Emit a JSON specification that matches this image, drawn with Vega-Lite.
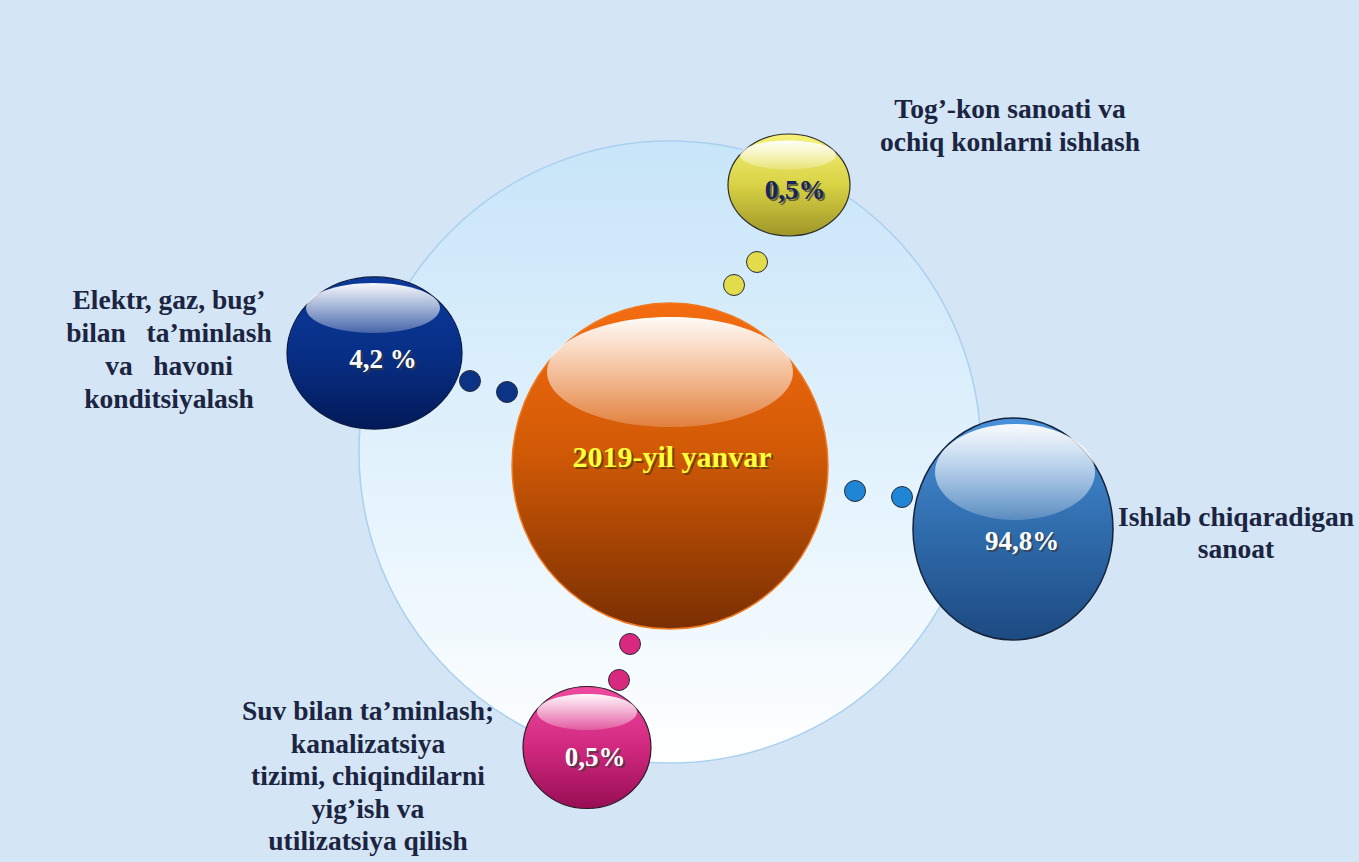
{
  "$schema": "https://vega.github.io/schema/vega-lite/v6.json",
  "width": 1359,
  "height": 862,
  "autosize": {"type": "fit", "contains": "padding"},
  "padding": 0,
  "background": "#d4e5f5",
  "config": {"view": {"stroke": null}},
  "datasets": {
    "ring": [{"x": 670, "y": 452}],
    "spheres": [
      {"id": "center", "x": 670, "y": 466},
      {"id": "manufacturing", "x": 1013, "y": 529},
      {"id": "energy", "x": 374.5, "y": 353},
      {"id": "mining", "x": 789, "y": 185},
      {"id": "water", "x": 587, "y": 747.5}
    ],
    "gloss": [
      {"id": "center", "x": 670, "y": 372},
      {"id": "manufacturing", "x": 1015, "y": 472},
      {"id": "energy", "x": 373, "y": 308},
      {"id": "mining", "x": 788, "y": 155},
      {"id": "water", "x": 587, "y": 712}
    ],
    "dots": [
      {"group": "energy", "x": 470, "y": 381},
      {"group": "energy", "x": 507, "y": 392},
      {"group": "mining", "x": 757, "y": 262},
      {"group": "mining", "x": 734, "y": 285},
      {"group": "manufacturing", "x": 855, "y": 491},
      {"group": "manufacturing", "x": 902, "y": 497},
      {"group": "water", "x": 630, "y": 644},
      {"group": "water", "x": 619, "y": 680}
    ],
    "values": [
      {"id": "center", "x": 672, "y": 458, "text": "2019-yil yanvar"},
      {"id": "manufacturing", "x": 1022, "y": 542, "text": "94,8%"},
      {"id": "energy", "x": 383, "y": 360, "text": "4,2 %"},
      {"id": "mining", "x": 795, "y": 191, "text": "0,5%"},
      {"id": "water", "x": 595, "y": 758, "text": "0,5%"}
    ],
    "labels": [
      {"id": "mining", "x": 1010, "y": 110, "text": "Tog’-kon sanoati va"},
      {"id": "mining", "x": 1010, "y": 143, "text": "ochiq konlarni ishlash"},
      {"id": "energy", "x": 169, "y": 301, "text": "Elektr, gaz, bug’"},
      {"id": "energy", "x": 169, "y": 334, "text": "bilan\u00a0\u00a0 ta’minlash"},
      {"id": "energy", "x": 169, "y": 367, "text": "va\u00a0\u00a0 havoni"},
      {"id": "energy", "x": 169, "y": 400, "text": "konditsiyalash"},
      {"id": "manufacturing", "x": 1236, "y": 518, "text": "Ishlab chiqaradigan"},
      {"id": "manufacturing", "x": 1236, "y": 550, "text": "sanoat"},
      {"id": "water", "x": 368, "y": 712, "text": "Suv bilan ta’minlash;"},
      {"id": "water", "x": 368, "y": 745, "text": "kanalizatsiya"},
      {"id": "water", "x": 368, "y": 777, "text": "tizimi, chiqindilarni"},
      {"id": "water", "x": 368, "y": 810, "text": "yig’ish va"},
      {"id": "water", "x": 368, "y": 842, "text": "utilizatsiya qilish"}
    ]
  },
  "encoding": {
    "x": {"field": "x", "type": "quantitative", "axis": null, "scale": {"domain": [0, 1359], "nice": false, "zero": false}},
    "y": {"field": "y", "type": "quantitative", "axis": null, "scale": {"domain": [0, 862], "nice": false, "zero": false, "reverse": true}}
  },
  "layer": [
    {
      "data": {"name": "ring"},
      "mark": {"type": "point", "shape": "circle", "size": 386884, "filled": true, "opacity": 1,
        "fill": {"gradient": "linear", "x1": 0, "y1": 0, "x2": 0, "y2": 1, "stops": [{"offset": 0, "color": "#c8e5f9"}, {"offset": 0.6, "color": "#e6f4fd"}, {"offset": 1, "color": "#ffffff"}]},
        "stroke": "#a9d1ef", "strokeWidth": 1.5}
    },
    {
      "data": {"name": "dots"},
      "mark": {"type": "point", "shape": "circle", "size": 441, "filled": true, "opacity": 1, "stroke": "#2a2a3a", "strokeWidth": 1},
      "encoding": {
        "color": {"field": "group", "type": "nominal", "legend": null,
          "scale": {"domain": ["energy", "mining", "manufacturing", "water"], "range": ["#0c3486", "#e2dc4c", "#1f86d6", "#d8297f"]}}
      }
    },
    {
      "data": {"name": "spheres"},
      "transform": [{"filter": "datum.id === 'center'"}],
      "mark": {"type": "point", "shape": "M -0.969 0 A 0.969 1 0 1 0 0.969 0 A 0.969 1 0 1 0 -0.969 0 Z", "size": 106276, "filled": true, "opacity": 1,
        "fill": {"gradient": "linear", "x1": 0, "y1": 0, "x2": 0, "y2": 1, "stops": [{"offset": 0, "color": "#f46c10"}, {"offset": 0.45, "color": "#d25a06"}, {"offset": 1, "color": "#7a2f02"}]},
        "stroke": "#f07a20", "strokeWidth": 1.5}
    },
    {
      "data": {"name": "spheres"},
      "transform": [{"filter": "datum.id === 'manufacturing'"}],
      "mark": {"type": "point", "shape": "M -0.901 0 A 0.901 1 0 1 0 0.901 0 A 0.901 1 0 1 0 -0.901 0 Z", "size": 49284, "filled": true, "opacity": 1,
        "fill": {"gradient": "linear", "x1": 0, "y1": 0, "x2": 0, "y2": 1, "stops": [{"offset": 0, "color": "#4a92dc"}, {"offset": 0.5, "color": "#2f6cac"}, {"offset": 1, "color": "#1d4a82"}]},
        "stroke": "#16243a", "strokeWidth": 1.5}
    },
    {
      "data": {"name": "spheres"},
      "transform": [{"filter": "datum.id === 'energy'"}],
      "mark": {"type": "point", "shape": "M -1 0 A 1 0.869 0 1 0 1 0 A 1 0.869 0 1 0 -1 0 Z", "size": 30625, "filled": true, "opacity": 1,
        "fill": {"gradient": "linear", "x1": 0, "y1": 0, "x2": 0, "y2": 1, "stops": [{"offset": 0, "color": "#0b3a9c"}, {"offset": 0.5, "color": "#082f86"}, {"offset": 1, "color": "#021a58"}]},
        "stroke": "#0a1a40", "strokeWidth": 1.2}
    },
    {
      "data": {"name": "spheres"},
      "transform": [{"filter": "datum.id === 'mining'"}],
      "mark": {"type": "point", "shape": "M -1 0 A 1 0.836 0 1 0 1 0 A 1 0.836 0 1 0 -1 0 Z", "size": 14884, "filled": true, "opacity": 1,
        "fill": {"gradient": "linear", "x1": 0, "y1": 0, "x2": 0, "y2": 1, "stops": [{"offset": 0, "color": "#f6f27a"}, {"offset": 0.5, "color": "#d8d244"}, {"offset": 1, "color": "#9e9628"}]},
        "stroke": "#2c2c2c", "strokeWidth": 1.2}
    },
    {
      "data": {"name": "spheres"},
      "transform": [{"filter": "datum.id === 'water'"}],
      "mark": {"type": "point", "shape": "M -1 0 A 1 0.953 0 1 0 1 0 A 1 0.953 0 1 0 -1 0 Z", "size": 16384, "filled": true, "opacity": 1,
        "fill": {"gradient": "linear", "x1": 0, "y1": 0, "x2": 0, "y2": 1, "stops": [{"offset": 0, "color": "#ee4aa0"}, {"offset": 0.5, "color": "#d0287e"}, {"offset": 1, "color": "#980e55"}]},
        "stroke": "#2a1a24", "strokeWidth": 1.2}
    },
    {
      "data": {"name": "gloss"},
      "transform": [{"filter": "datum.id === 'center'"}],
      "mark": {"type": "point", "shape": "M -1 0 A 1 0.447 0 1 0 1 0 A 1 0.447 0 1 0 -1 0 Z", "size": 60516, "filled": true, "opacity": 1, "strokeWidth": 0,
        "fill": {"gradient": "linear", "x1": 0, "y1": 0, "x2": 0, "y2": 1, "stops": [{"offset": 0, "color": "rgba(255,255,255,0.97)"}, {"offset": 1, "color": "rgba(255,255,255,0.22)"}]}}
    },
    {
      "data": {"name": "gloss"},
      "transform": [{"filter": "datum.id === 'manufacturing'"}],
      "mark": {"type": "point", "shape": "M -1 0 A 1 0.6 0 1 0 1 0 A 1 0.6 0 1 0 -1 0 Z", "size": 25600, "filled": true, "opacity": 1, "strokeWidth": 0,
        "fill": {"gradient": "linear", "x1": 0, "y1": 0, "x2": 0, "y2": 1, "stops": [{"offset": 0, "color": "rgba(255,255,255,0.97)"}, {"offset": 1, "color": "rgba(255,255,255,0.2)"}]}}
    },
    {
      "data": {"name": "gloss"},
      "transform": [{"filter": "datum.id === 'energy'"}],
      "mark": {"type": "point", "shape": "M -1 0 A 1 0.373 0 1 0 1 0 A 1 0.373 0 1 0 -1 0 Z", "size": 17956, "filled": true, "opacity": 1, "strokeWidth": 0,
        "fill": {"gradient": "linear", "x1": 0, "y1": 0, "x2": 0, "y2": 1, "stops": [{"offset": 0, "color": "rgba(255,255,255,0.97)"}, {"offset": 1, "color": "rgba(255,255,255,0.25)"}]}}
    },
    {
      "data": {"name": "gloss"},
      "transform": [{"filter": "datum.id === 'mining'"}],
      "mark": {"type": "point", "shape": "M -1 0 A 1 0.3 0 1 0 1 0 A 1 0.3 0 1 0 -1 0 Z", "size": 9216, "filled": true, "opacity": 1, "strokeWidth": 0,
        "fill": {"gradient": "linear", "x1": 0, "y1": 0, "x2": 0, "y2": 1, "stops": [{"offset": 0, "color": "rgba(255,255,255,0.95)"}, {"offset": 1, "color": "rgba(255,255,255,0.2)"}]}}
    },
    {
      "data": {"name": "gloss"},
      "transform": [{"filter": "datum.id === 'water'"}],
      "mark": {"type": "point", "shape": "M -1 0 A 1 0.36 0 1 0 1 0 A 1 0.36 0 1 0 -1 0 Z", "size": 10000, "filled": true, "opacity": 1, "strokeWidth": 0,
        "fill": {"gradient": "linear", "x1": 0, "y1": 0, "x2": 0, "y2": 1, "stops": [{"offset": 0, "color": "rgba(255,255,255,0.95)"}, {"offset": 1, "color": "rgba(255,255,255,0.2)"}]}}
    },
    {
      "data": {"name": "values"},
      "transform": [{"filter": "datum.id !== 'center'"}],
      "mark": {"type": "text", "font": "Liberation Serif", "fontWeight": "bold", "fontSize": 27, "align": "center", "baseline": "middle", "dx": 2, "dy": 2, "fill": "#3a3a3a", "fillOpacity": 0.7},
      "encoding": {"text": {"field": "text"}}
    },
    {
      "data": {"name": "values"},
      "transform": [{"filter": "datum.id === 'center'"}],
      "mark": {"type": "text", "font": "Liberation Serif", "fontWeight": "bold", "fontSize": 30, "align": "center", "baseline": "middle", "dx": 2, "dy": 2, "fill": "#5a3a10", "fillOpacity": 0.8},
      "encoding": {"text": {"field": "text"}}
    },
    {
      "data": {"name": "values"},
      "transform": [{"filter": "datum.id === 'center'"}],
      "mark": {"type": "text", "font": "Liberation Serif", "fontWeight": "bold", "fontSize": 30, "align": "center", "baseline": "middle", "fill": "#ffff3a"},
      "encoding": {"text": {"field": "text"}}
    },
    {
      "data": {"name": "values"},
      "transform": [{"filter": "datum.id === 'mining'"}],
      "mark": {"type": "text", "font": "Liberation Serif", "fontWeight": "bold", "fontSize": 27, "align": "center", "baseline": "middle", "fill": "#16235e"},
      "encoding": {"text": {"field": "text"}}
    },
    {
      "data": {"name": "values"},
      "transform": [{"filter": "datum.id !== 'center' && datum.id !== 'mining'"}],
      "mark": {"type": "text", "font": "Liberation Serif", "fontWeight": "bold", "fontSize": 27, "align": "center", "baseline": "middle", "fill": "#ffffff"},
      "encoding": {"text": {"field": "text"}}
    },
    {
      "data": {"name": "labels"},
      "mark": {"type": "text", "font": "Liberation Serif", "fontWeight": "bold", "fontSize": 27.5, "align": "center", "baseline": "middle", "fill": "#1b2440"},
      "encoding": {"text": {"field": "text"}}
    }
  ]
}
